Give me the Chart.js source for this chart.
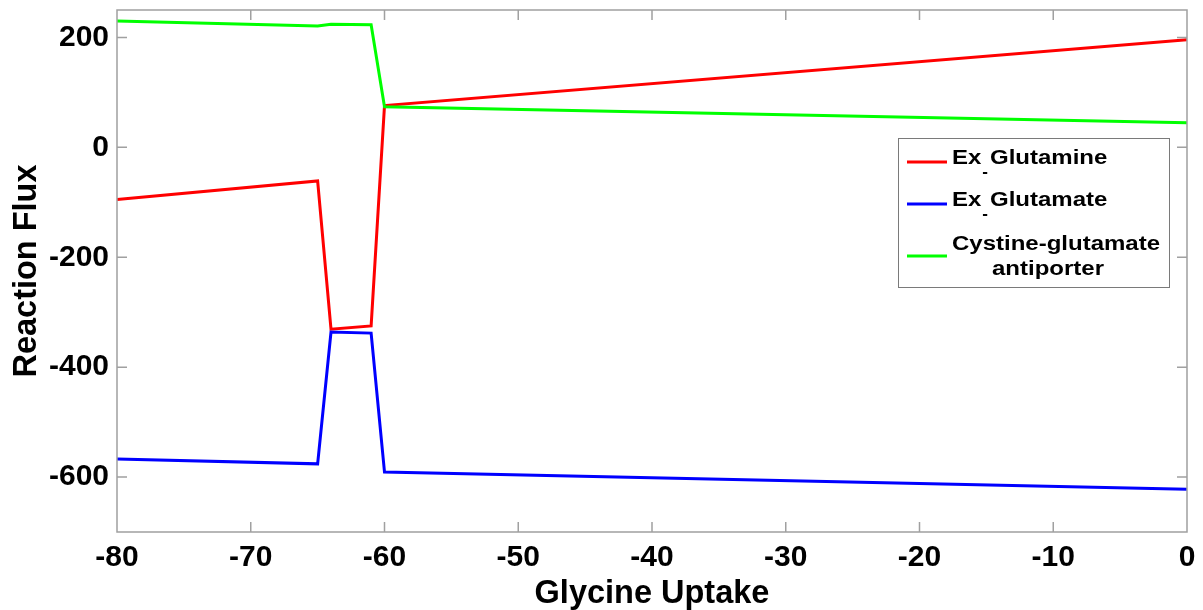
<!DOCTYPE html>
<html>
<head>
<meta charset="utf-8">
<script src="https://cdn.jsdelivr.net/npm/chart.js@4/dist/chart.umd.min.js"></script>
<style>
  html, body { margin: 0; padding: 0; background: #ffffff; }
  #wrap { width: 1203px; height: 610px; }
</style>
</head>
<body>
<div id="wrap"><canvas id="c" width="1203" height="610"></canvas></div>
<script>
// Glycine uptake breakpoints and the fluxes at each of them
const glycineUptake    = [-80, -65, -64, -61, -60, 0];
const exGlutamine      = [-95, -61, -331, -325, 76, 196];
const exGlutamate      = [-567, -576, -336, -338, -591, -622];
const cystineGlutamate = [230, 221, 224, 223, 74, 45];

// Legend text: an underscore marks the next character as a subscript
const seriesLabels = ['Ex_-Glutamine', 'Ex_-Glutamate', 'Cystine-glutamate\nantiporter'];
const seriesColors = ['#ff0000', '#0000ff', '#00ff00'];

const xTicks = [-80, -70, -60, -50, -40, -30, -20, -10, 0];
const yTicks = [-600, -400, -200, 0, 200];

const FONT = '"Liberation Sans", Arial, Helvetica, sans-serif';
const AXIS_GRAY = '#a0a0a0';

function toPoints(ys) {
  return glycineUptake.map((x, i) => ({ x: x, y: ys[i] }));
}

// draw text stretched horizontally, returns its drawn width
function wideText(ctx, text, x, y, sx) {
  ctx.save();
  ctx.translate(x, y);
  ctx.scale(sx, 1);
  ctx.fillText(text, 0, 0);
  ctx.restore();
  return ctx.measureText(text).width * sx;
}

// Box around the plot with inward ticks on all four sides, plus the legend
const frameAndLegend = {
  id: 'frameAndLegend',
  afterDraw(chart) {
    const ctx = chart.ctx;
    const a = chart.chartArea;
    const xs = chart.scales.x, ys = chart.scales.y;
    const tl = 10;
    ctx.save();
    ctx.strokeStyle = AXIS_GRAY;
    ctx.lineWidth = 1.5;
    ctx.beginPath();
    ctx.rect(a.left, a.top, a.right - a.left, a.bottom - a.top);
    xTicks.forEach(v => {
      const px = xs.getPixelForValue(v);
      ctx.moveTo(px, a.bottom); ctx.lineTo(px, a.bottom - tl);
      ctx.moveTo(px, a.top); ctx.lineTo(px, a.top + tl);
    });
    yTicks.forEach(v => {
      const py = ys.getPixelForValue(v);
      ctx.moveTo(a.left, py); ctx.lineTo(a.left + tl, py);
      ctx.moveTo(a.right, py); ctx.lineTo(a.right - tl, py);
    });
    ctx.stroke();

    // legend
    const bx = 898, by = 138, bw = 271, bh = 149;
    ctx.fillStyle = '#ffffff';
    ctx.fillRect(bx, by, bw, bh);
    ctx.strokeStyle = '#7a7a7a';
    ctx.lineWidth = 1;
    ctx.strokeRect(bx + 0.5, by + 0.5, bw, bh);

    const lineRows = [162, 204, 256];
    const textRows = [158, 200, 244];
    const SX = 1.2;
    ctx.textBaseline = 'middle';
    ctx.textAlign = 'left';
    seriesLabels.forEach((label, i) => {
      ctx.strokeStyle = seriesColors[i];
      ctx.lineWidth = 3;
      ctx.beginPath();
      ctx.moveTo(907, lineRows[i]); ctx.lineTo(947, lineRows[i]);
      ctx.stroke();

      const y = textRows[i];
      ctx.fillStyle = '#000000';
      const lines = label.split('\n');
      if (lines.length > 1) {
        ctx.font = 'bold 20px ' + FONT;
        const w0 = wideText(ctx, lines[0], 952, y, SX);
        const w1 = ctx.measureText(lines[1]).width * SX;
        wideText(ctx, lines[1], 952 + w0 / 2 - w1 / 2 - 8, y + 25, SX);
        return;
      }
      // inline subscript rendering
      let x = 952;
      const parts = label.split('_');
      parts.forEach((part, k) => {
        let rest = part;
        if (k > 0) {
          const sub = part.charAt(0);
          rest = part.slice(1);
          ctx.font = 'bold 17px ' + FONT;
          x += wideText(ctx, sub, x + 1, y + 14, 1) + 3;
        }
        ctx.font = 'bold 20px ' + FONT;
        x += wideText(ctx, rest, x, y, SX);
      });
    });
    ctx.restore();
  }
};

const datasets = [
  { label: seriesLabels[0], data: toPoints(exGlutamine), borderColor: seriesColors[0], order: 2 },
  { label: seriesLabels[1], data: toPoints(exGlutamate), borderColor: seriesColors[1], order: 1 },
  { label: seriesLabels[2], data: toPoints(cystineGlutamate), borderColor: seriesColors[2], order: 0 }
].map(d => Object.assign(d, {
  borderWidth: 3,
  pointRadius: 0,
  fill: false,
  tension: 0,
  borderJoinStyle: 'miter'
}));

new Chart(document.getElementById('c'), {
  type: 'line',
  data: { datasets: datasets },
  options: {
    responsive: false,
    animation: false,
    devicePixelRatio: 1,
    layout: { padding: { top: 10, right: 16, left: 0, bottom: 0 } },
    plugins: { legend: { display: false }, tooltip: { enabled: false } },
    scales: {
      x: {
        type: 'linear',
        min: -80, max: 0,
        afterBuildTicks: s => { s.ticks = xTicks.map(v => ({ value: v })); },
        afterFit: s => { s.height = 78; s.paddingLeft = 0; s.paddingRight = 0; },
        grid: { display: false, drawTicks: false },
        border: { display: false },
        ticks: { color: '#000', font: { family: FONT, size: 30, weight: 'bold' }, padding: 8, maxRotation: 0 },
        title: { display: true, text: 'Glycine Uptake', color: '#000', font: { family: FONT, size: 32.5, weight: 'bold' }, padding: { top: 0, bottom: -4 } }
      },
      y: {
        type: 'linear',
        min: -700, max: 250,
        afterBuildTicks: s => { s.ticks = yTicks.map(v => ({ value: v })); },
        afterFit: s => { s.width = 117; s.paddingTop = 0; s.paddingBottom = 0; },
        grid: { display: false, drawTicks: false },
        border: { display: false },
        ticks: { color: '#000', font: { family: FONT, size: 30, weight: 'bold' }, padding: 8 },
        title: { display: true, text: 'Reaction Flux', color: '#000', font: { family: FONT, size: 32.5, weight: 'bold' }, padding: { top: 8, bottom: 0 } }
      }
    }
  },
  plugins: [frameAndLegend]
});
</script>
</body>
</html>
